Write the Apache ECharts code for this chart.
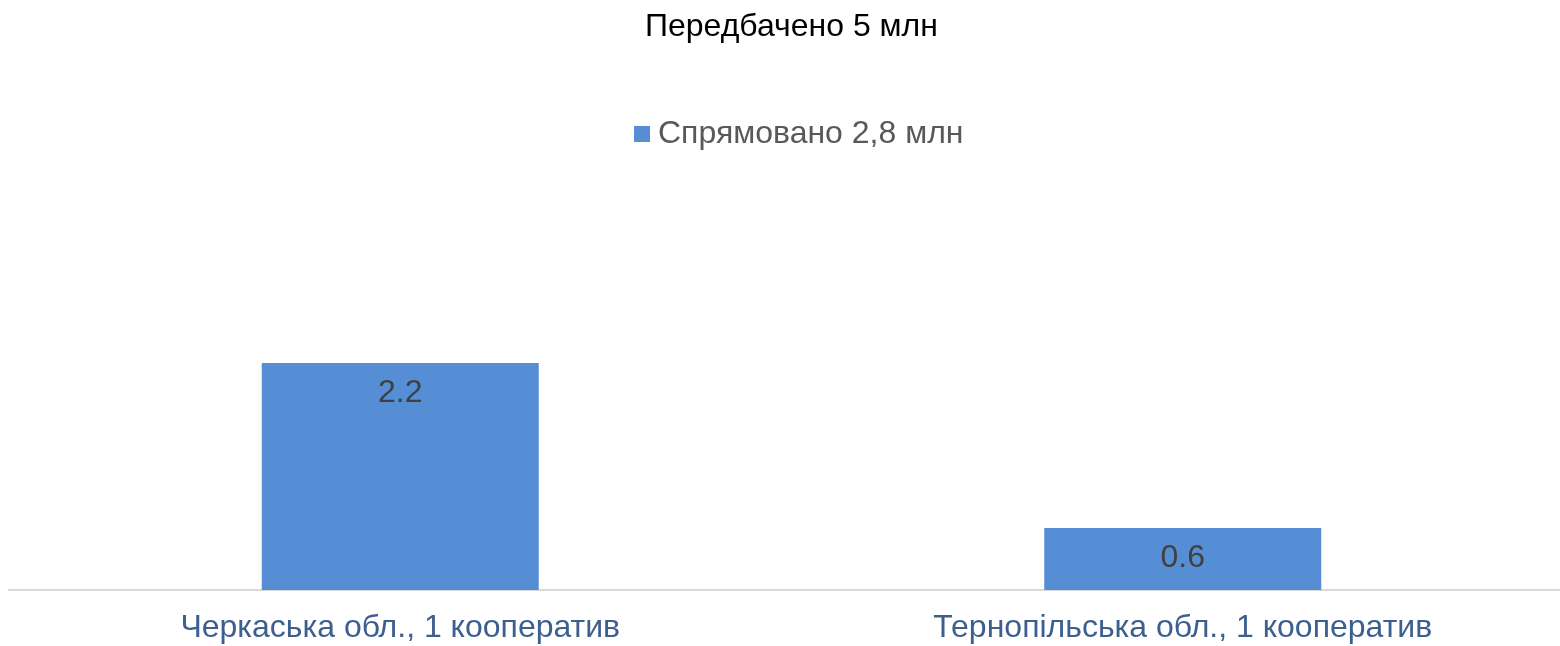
<!DOCTYPE html>
<html><head><meta charset="utf-8">
<script src="https://cdn.jsdelivr.net/npm/echarts@6/dist/echarts.min.js"></script>
<style>html,body{margin:0;padding:0;background:#fff}#c{width:1560px;height:646px}</style>
</head><body><div id="c"></div>
<script>
const titleText = 'Передбачено 5 млн';
const seriesName = 'Спрямовано 2,8 млн';
const categories = ['Черкаська обл., 1 кооператив', 'Тернопільська обл., 1 кооператив'];
const values = [2.2, 0.6];
const FONT = '"Liberation Sans", Arial, sans-serif';
const chart = echarts.init(document.getElementById('c'));
chart.setOption({
  animation: false,
  title: { text: titleText, left: 640, top: 6,
    textStyle: { fontFamily: FONT, fontSize: 32, fontWeight: 'normal', color: '#000' } },
  legend: { data: [seriesName], top: 113, left: 629, icon: 'rect', itemWidth: 16, itemHeight: 16,
    textStyle: { fontFamily: FONT, fontSize: 32, color: '#595959', padding: [0,0,0,3] } },
  grid: { left: 9, width: 1565, top: 332, height: 258, containLabel: false, outerBoundsMode: 'none' },
  xAxis: { type: 'category', data: categories,
    axisLine: { lineStyle: { color: '#d9d9d9', width: 2 } }, axisTick: { show: false },
    axisLabel: { fontFamily: FONT, fontSize: 32, color: '#3d5f8f', margin: 22 } },
  yAxis: { type: 'value', min: 0, max: 2.5, show: false, splitLine: { show: false } },
  series: [{ name: seriesName, type: 'bar', data: values, barWidth: 277,
    itemStyle: { color: '#558ed5' },
    label: { show: true, position: 'insideTop', distance: 14, fontFamily: FONT, fontSize: 32, color: '#404040' } }]
});
</script></body></html>
